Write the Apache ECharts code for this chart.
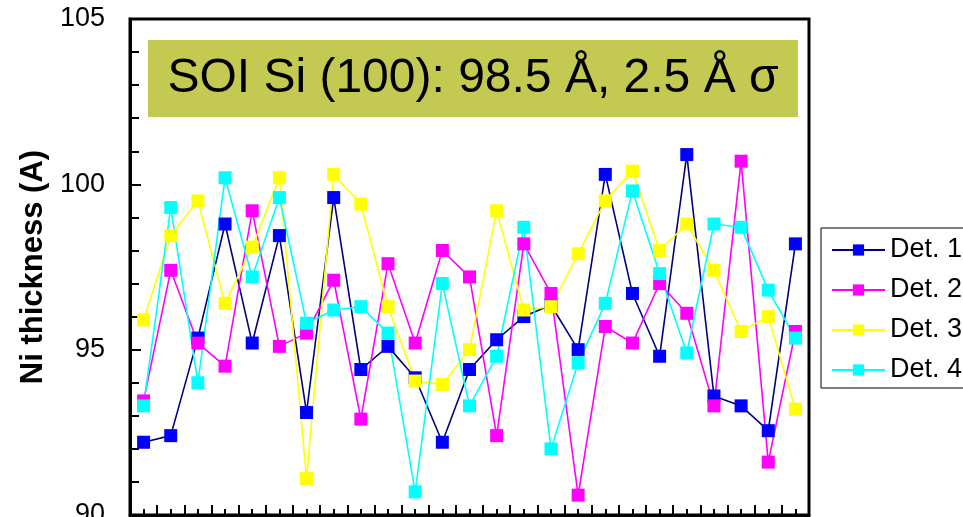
<!DOCTYPE html>
<html>
<head>
<meta charset="utf-8">
<script src="https://cdn.jsdelivr.net/npm/echarts@6/dist/echarts.min.js"></script>
<style>
  html, body { margin: 0; padding: 0; background: #fff; }
  #chart { width: 963px; height: 517px; }
</style>
</head>
<body>
<div id="chart"></div>
<script>
// Measurement positions 1..25
const positions = Array.from({ length: 25 }, (_, i) => String(i + 1));

// Ni thickness per detector (Å)
const det1 = [92.2, 92.4, 95.35, 98.8, 95.2, 98.45, 93.1, 99.6, 94.4, 95.1, 94.15, 92.2, 94.4,
              95.3, 96.0, 96.35, 95.0, 100.3, 96.7, 94.8, 100.9, 93.6, 93.3, 92.55, 98.2];
const det2 = [93.45, 97.4, 95.2, 94.5, 99.2, 95.1, 95.5, 97.1, 92.9, 97.6, 95.2, 98.0, 97.2,
              92.4, 98.2, 96.7, 90.6, 95.7, 95.2, 97.0, 96.1, 93.3, 100.7, 91.6, 95.55];
const det3 = [95.9, 98.45, 99.5, 96.4, 98.1, 100.2, 91.1, 100.3, 99.4, 96.3, 94.05, 93.95, 95.0,
              99.2, 96.2, 96.3, 97.9, 99.5, 100.4, 98.0, 98.8, 97.4, 95.55, 96.0, 93.2];
const det4 = [93.3, 99.3, 94.0, 100.2, 97.2, 99.6, 95.8, 96.2, 96.3, 95.5, 90.7, 97.0, 93.3,
              94.8, 98.7, 92.0, 94.6, 96.4, 99.8, 97.3, 94.9, 98.8, 98.7, 96.8, 95.35];

const yTicks = { min: 90, max: 105, step: 5 };
const titleText = 'SOI Si (100): 98.5 Å, 2.5 Å σ';

const FONT = 'Arial, "Liberation Sans", sans-serif';

function makeSeries(name, data, lineColor, markColor) {
  return {
    name: name,
    type: 'line',
    data: data,
    xAxisIndex: 0,
    symbol: 'rect',
    symbolSize: 13,
    showAllSymbol: true,
    lineStyle: { color: lineColor, width: 1.6 },
    itemStyle: { color: markColor, borderWidth: 0 },
    emphasis: { disabled: true },
    animation: false
  };
}

const chart = echarts.init(document.getElementById('chart'), null, { renderer: 'canvas' });

chart.setOption({
  backgroundColor: '#ffffff',
  animation: false,
  grid: {
    left: 130, top: 19, right: 154, bottom: 2,
    containLabel: false,
    outerBoundsMode: 'none',
    show: true, borderColor: '#000', borderWidth: 3, backgroundColor: 'transparent'
  },
  legend: {
    orient: 'vertical',
    left: 821, top: 228,
    padding: [8, 60, 4, 10],
    itemGap: 12,
    itemWidth: 53,
    itemHeight: 14,
    borderColor: '#000',
    borderWidth: 1,
    backgroundColor: '#fff',
    textStyle: { fontFamily: FONT, fontSize: 27, color: '#000', lineHeight: 28, padding: [0, 0, 0, 0] },
    data: ['Det. 1', 'Det. 2', 'Det. 3', 'Det. 4']
  },
  xAxis: [
    {
      type: 'category',
      data: positions,
      boundaryGap: true,
      axisLine: { show: true, lineStyle: { color: '#000', width: 3 } },
      axisTick: { show: true, inside: true, length: 10, lineStyle: { color: '#000', width: 2 } },
      axisLabel: { show: false },
      splitLine: { show: false }
    },
    {
      type: 'category',
      data: positions,
      position: 'bottom',
      boundaryGap: true,
      axisLine: { show: false },
      axisTick: { show: true, inside: true, alignWithLabel: true, length: 6, lineStyle: { color: '#000', width: 2 } },
      axisLabel: { show: false },
      splitLine: { show: false }
    }
  ],
  yAxis: {
    type: 'value',
    min: yTicks.min,
    max: yTicks.max,
    interval: yTicks.step,
    name: 'Ni thickness (A)',
    nameLocation: 'middle',
    nameGap: 72,
    nameTextStyle: { fontFamily: FONT, fontSize: 31, fontWeight: 'bold', color: '#000' },
    axisLine: { show: true, lineStyle: { color: '#000', width: 3 } },
    axisTick: { show: true, inside: true, length: 11, lineStyle: { color: '#000', width: 2 } },
    minorTick: { show: true, splitNumber: 5, length: 9, lineStyle: { color: '#000', width: 2 } },
    axisLabel: { fontFamily: FONT, fontSize: 27, color: '#000', margin: 25 },
    splitLine: { show: false }
  },
  graphic: [
    {
      type: 'rect',
      shape: { x: 148, y: 40, width: 650, height: 77 },
      style: { fill: '#c4c952' },
      z: 10
    },
    {
      type: 'text',
      x: 473, y: 79,
      style: {
        text: titleText,
        fontFamily: FONT,
        fontSize: 48,
        fill: '#000',
        textAlign: 'center',
        textVerticalAlign: 'middle'
      },
      z: 11
    }
  ],
  series: [
    makeSeries('Det. 1', det1, '#000080', '#0000ff'),
    makeSeries('Det. 2', det2, '#ff00ff', '#ff00ff'),
    makeSeries('Det. 3', det3, '#ffff00', '#ffff00'),
    makeSeries('Det. 4', det4, '#00ffff', '#00ffff')
  ]
});
</script>
</body>
</html>
